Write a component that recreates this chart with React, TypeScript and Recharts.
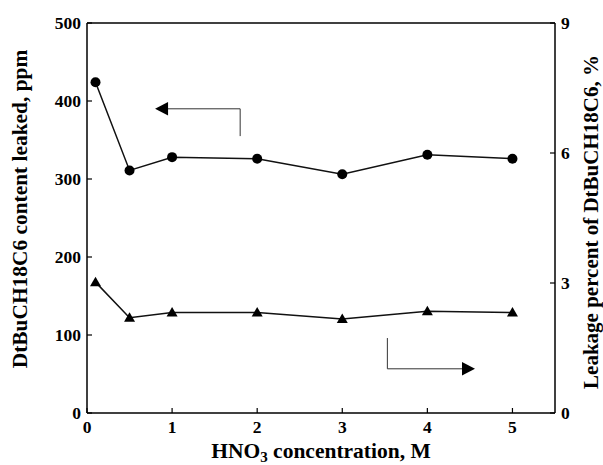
import React from 'react';
import { ComposedChart, Line, XAxis, YAxis, ReferenceLine, ReferenceDot } from 'recharts';

const concentrations = [0.1, 0.5, 1, 2, 3, 4, 5];
const contentPpm = [424, 311, 328, 326, 306, 331, 326];
const leakagePct = [3.02, 2.2, 2.32, 2.32, 2.17, 2.35, 2.32];
const xTicks = [0, 1, 2, 3, 4, 5];
const leftTicks = [0, 100, 200, 300, 400, 500];
const rightTicks = [0, 3, 6, 9];
// annotation arrows in data coordinates: [x, y]
const leftArrowPts = [[0.8, 390], [1.8, 390], [1.8, 355]];
const rightArrowPts = [[3.53, 1.73], [3.53, 1.02], [4.56, 1.02]];

const data = concentrations.map((c, i) => ({ x: c, ppm: contentPpm[i], pct: leakagePct[i] }));

const FONT = '"Liberation Serif", "Times New Roman", serif';
const tickStyle = { fontFamily: FONT, fontWeight: 'bold', fontSize: 17.5, fill: '#000' };

const Triangle = (props: any) => {
  const { cx, cy } = props;
  if (cx == null || cy == null) return null;
  return (
    <polygon
      key={`t-${props.index}`}
      points={`${cx},${cy - 5.5} ${cx - 5.5},${cy + 4} ${cx + 5.5},${cy + 4}`}
      fill="#000"
    />
  );
};

const Circle = (props: any) => {
  const { cx, cy } = props;
  if (cx == null || cy == null) return null;
  return <circle key={`c-${props.index}`} cx={cx} cy={cy} r={5} fill="#000" />;
};

const LeftHead = (props: any) => {
  const { cx, cy } = props;
  return <polygon points={`${cx},${cy} ${cx + 13},${cy - 6.7} ${cx + 13},${cy + 6.7}`} fill="#000" />;
};
const RightHead = (props: any) => {
  const { cx, cy } = props;
  return <polygon points={`${cx},${cy} ${cx - 13},${cy - 6.7} ${cx - 13},${cy + 6.7}`} fill="#000" />;
};

const LeftLabel = (props: any) => {
  const vb = props.viewBox || { x: 0, y: 23, width: 87, height: 390 };
  const cx = vb.x + 20;
  const cy = vb.y + vb.height / 2 - 9;
  return (
    <text x={cx} y={cy} transform={`rotate(-90 ${cx} ${cy})`} textAnchor="middle" dominantBaseline="central"
      fontFamily={FONT} fontWeight="bold" fontSize={21.4} fill="#000">
      DtBuCH18C6 content leaked, ppm
    </text>
  );
};

const RightLabel = (props: any) => {
  const vb = props.viewBox || { x: 555, y: 23, width: 48, height: 390 };
  const cx = vb.x + 36;
  const cy = vb.y + vb.height / 2 + 4;
  return (
    <text x={cx} y={cy} transform={`rotate(-90 ${cx} ${cy})`} textAnchor="middle" dominantBaseline="central"
      fontFamily={FONT} fontWeight="bold" fontSize={21} fill="#000">
      Leakage percent of DtBuCH18C6, %
    </text>
  );
};

const XLabel = (props: any) => {
  const vb = props.viewBox || { x: 87, y: 413, width: 468, height: 52 };
  const cx = vb.x + vb.width / 2;
  const y = vb.y + 45;
  return (
    <text x={cx} y={y} textAnchor="middle" fontFamily={FONT} fontWeight="bold" fontSize={21.5} fill="#000">
      HNO<tspan dy={4} fontSize={15}>3</tspan><tspan dy={-4}> concentration, M</tspan>
    </text>
  );
};

export default function App() {
  return (
    <div style={{ position: 'absolute', left: 0, top: 0, width: 603, height: 465, background: '#fff' }}>
      <ComposedChart width={603} height={465} data={data} margin={{ top: 23, right: 0, bottom: 0, left: 0 }}>
        <XAxis
          dataKey="x"
          type="number"
          domain={[0, 5.5]}
          ticks={xTicks}
          allowDataOverflow
          height={52}
          tickSize={-5}
          tickMargin={13}
          tick={tickStyle}
          axisLine={{ stroke: '#000', strokeWidth: 1.5 }}
          tickLine={{ stroke: '#000', strokeWidth: 1.2 }}
          label={<XLabel />}
        />
        <YAxis
          yAxisId="left"
          orientation="left"
          domain={[0, 500]}
          ticks={leftTicks}
          width={87}
          tickSize={-5}
          tickMargin={11}
          tick={tickStyle}
          axisLine={{ stroke: '#000', strokeWidth: 1.5 }}
          tickLine={{ stroke: '#000', strokeWidth: 1.2 }}
          label={<LeftLabel />}
        />
        <YAxis
          yAxisId="right"
          orientation="right"
          domain={[0, 9]}
          ticks={rightTicks}
          width={48}
          tickSize={-5}
          tickMargin={11}
          tick={tickStyle}
          axisLine={{ stroke: '#000', strokeWidth: 1.5 }}
          tickLine={{ stroke: '#000', strokeWidth: 1.2 }}
          label={<RightLabel />}
        />
        <ReferenceLine yAxisId="left" y={500} stroke="#000" strokeWidth={1.5} />
        <Line
          yAxisId="left"
          dataKey="ppm"
          stroke="#111"
          strokeWidth={1.5}
          dot={Circle}
          activeDot={false}
          isAnimationActive={false}
        />
        <Line
          yAxisId="right"
          dataKey="pct"
          stroke="#111"
          strokeWidth={1.5}
          dot={Triangle}
          activeDot={false}
          isAnimationActive={false}
        />
        <ReferenceLine
          yAxisId="left"
          segment={[{ x: leftArrowPts[0][0] + 0.1, y: leftArrowPts[0][1] }, { x: leftArrowPts[1][0], y: leftArrowPts[1][1] }]}
          stroke="#333"
          strokeWidth={1}
        />
        <ReferenceLine
          yAxisId="left"
          segment={[{ x: leftArrowPts[1][0], y: leftArrowPts[1][1] }, { x: leftArrowPts[2][0], y: leftArrowPts[2][1] }]}
          stroke="#333"
          strokeWidth={1}
        />
        <ReferenceDot yAxisId="left" x={leftArrowPts[0][0]} y={leftArrowPts[0][1]} r={0} shape={LeftHead} />
        <ReferenceLine
          yAxisId="right"
          segment={[{ x: rightArrowPts[0][0], y: rightArrowPts[0][1] }, { x: rightArrowPts[1][0], y: rightArrowPts[1][1] }]}
          stroke="#333"
          strokeWidth={1}
        />
        <ReferenceLine
          yAxisId="right"
          segment={[{ x: rightArrowPts[1][0], y: rightArrowPts[1][1] }, { x: rightArrowPts[2][0] - 0.1, y: rightArrowPts[2][1] }]}
          stroke="#333"
          strokeWidth={1}
        />
        <ReferenceDot yAxisId="right" x={rightArrowPts[2][0]} y={rightArrowPts[2][1]} r={0} shape={RightHead} />
      </ComposedChart>
    </div>
  );
}
